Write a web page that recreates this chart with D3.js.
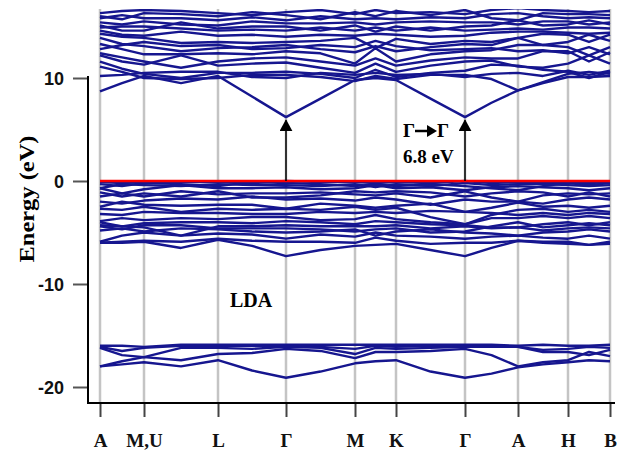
<!DOCTYPE html>
<html>
<head>
<meta charset="utf-8">
<script src="https://cdn.jsdelivr.net/npm/d3@7"></script>
<style>
  body { margin: 0; background: #fff; }
  .tickLabelY { font-family: "Liberation Sans", Arial, sans-serif; font-weight: bold; font-size: 18px; }
  .tickLabelX, .label, .note { font-family: "Liberation Serif", "Times New Roman", serif; font-weight: bold; }
</style>
</head>
<body>
<svg></svg>
<script>
// high symmetry points along the path
var kNames = ["A", "M,U", "L", "\u0393", "M", "K", "\u0393", "A", "H", "B"];
var kTicks = [0, 0.44, 1.18, 1.86, 2.55, 2.96, 3.65, 4.18, 4.68, 5.10];
// k grid: symmetry points plus one point in each segment
var kGrid = [0, 0.22, 0.44, 0.81, 1.18, 1.52, 1.86, 2.205, 2.55, 2.755, 2.96, 3.305, 3.65, 3.915, 4.18, 4.43, 4.68, 4.89, 5.10];
var yTicks = [10, 0, -10, -20];

// conduction bands (eV)
var conduction = [
  [8.7, 9.5, 10.2, 9.5, 10.2, 8.2, 6.2, 8.0, 9.8, 10.0, 9.8, 8.0, 6.2, 7.6, 8.8, 9.5, 10.1, 10.1, 10.2],
  [11.1, 10.6, 10.0, 9.9, 10.0, 10.3, 10.3, 10.1, 9.7, 10.2, 9.9, 10.3, 10.3, 9.9, 8.8, 9.6, 10.4, 10.6, 10.4],
  [10.2, 10.3, 10.5, 10.6, 10.6, 10.1, 10.0, 10.5, 10.3, 10.5, 10.3, 10.4, 10.1, 10.4, 10.5, 10.2, 10.7, 10.3, 10.7],
  [11.6, 10.9, 10.4, 10.0, 10.5, 10.5, 10.6, 10.4, 10.0, 10.8, 10.1, 10.5, 10.7, 11.3, 11.2, 10.8, 10.6, 10.0, 10.6],
  [12.2, 11.6, 11.3, 12.2, 11.2, 11.4, 11.5, 11.0, 10.5, 11.4, 10.6, 11.2, 11.6, 11.7, 11.1, 11.0, 11.4, 12.2, 11.4],
  [12.4, 12.0, 11.6, 11.0, 11.6, 11.9, 12.0, 11.6, 11.2, 11.9, 11.2, 11.7, 12.0, 11.9, 11.9, 12.6, 12.6, 11.6, 12.5],
  [13.3, 12.8, 12.3, 12.3, 12.4, 12.3, 12.6, 12.4, 11.4, 12.9, 11.6, 12.3, 12.6, 12.7, 13.2, 13.2, 13.0, 12.2, 13.0],
  [12.8, 13.2, 13.5, 13.1, 13.2, 12.8, 12.9, 13.2, 13.0, 13.6, 13.1, 12.7, 12.8, 12.9, 12.6, 12.7, 12.4, 13.0, 12.3],
  [13.9, 13.3, 13.1, 12.6, 12.9, 13.0, 13.2, 12.8, 12.5, 13.1, 12.6, 13.0, 13.3, 13.2, 13.9, 13.2, 13.5, 14.2, 13.6],
  [14.3, 14.0, 13.9, 13.4, 13.5, 13.4, 13.5, 13.6, 13.9, 12.9, 13.8, 13.3, 13.6, 13.5, 13.9, 14.3, 14.2, 13.5, 14.2],
  [14.6, 14.2, 14.1, 14.5, 14.1, 14.2, 14.0, 14.2, 14.1, 14.3, 14.2, 14.0, 14.1, 14.4, 14.5, 14.5, 14.4, 14.3, 14.4],
  [14.9, 15.0, 15.0, 14.8, 14.6, 14.7, 14.6, 14.9, 14.6, 14.9, 14.6, 14.9, 14.6, 14.7, 14.8, 14.7, 14.9, 14.9, 14.8],
  [15.1, 14.6, 14.6, 15.4, 14.8, 15.0, 15.0, 14.6, 15.1, 14.5, 15.0, 14.6, 15.0, 15.1, 15.6, 15.1, 15.2, 15.6, 15.2],
  [15.4, 15.2, 15.5, 15.2, 15.1, 15.5, 15.3, 15.3, 15.4, 15.2, 15.4, 15.5, 15.4, 15.4, 15.2, 15.5, 15.5, 15.2, 15.4],
  [15.8, 16.1, 15.8, 15.8, 15.6, 15.9, 15.6, 16.0, 15.7, 15.8, 15.7, 15.9, 15.8, 16.2, 16.3, 16.0, 15.8, 15.9, 15.8],
  [16.0, 15.7, 16.3, 16.2, 16.0, 16.4, 16.1, 15.7, 16.4, 16.0, 16.5, 16.1, 16.6, 15.8, 15.6, 16.3, 16.2, 16.2, 16.1],
  [16.3, 16.5, 16.6, 16.5, 16.3, 16.1, 16.4, 16.6, 16.2, 16.6, 16.3, 16.4, 16.2, 16.6, 16.8, 16.6, 16.5, 16.4, 16.5]
];

// valence bands (eV)
var valence = [
  [-0.1, -0.2, -0.1, -0.1, -0.1, -0.2, 0.0, -0.1, -0.1, -0.2, -0.1, -0.2, 0.0, -0.2, -0.1, -0.2, -0.2, -0.2, -0.1],
  [-0.3, -0.5, -0.2, -0.3, -0.5, -0.1, -0.2, -0.3, -0.5, -0.3, -0.5, -0.3, -0.5, -0.7, -0.9, -0.5, -0.2, -0.4, -0.2],
  [-0.7, -0.3, -0.4, -0.5, -0.3, -0.4, -0.4, -0.5, -0.3, -0.6, -0.3, -0.5, -0.2, -0.4, -0.3, -0.3, -0.4, -0.5, -0.4],
  [-0.7, -1.2, -0.8, -0.4, -0.7, -0.7, -0.6, -0.8, -0.7, -0.4, -0.7, -0.6, -0.9, -0.6, -0.5, -0.6, -0.7, -0.9, -0.7],
  [-1.1, -1.5, -1.2, -1.5, -1.0, -1.6, -1.6, -1.4, -1.0, -1.1, -1.0, -1.1, -1.5, -1.2, -1.0, -1.1, -1.5, -1.1, -1.5],
  [-1.5, -1.2, -1.5, -1.0, -1.3, -1.2, -1.2, -1.1, -1.3, -1.4, -1.2, -1.6, -1.0, -1.6, -2.0, -1.4, -1.2, -1.3, -1.2],
  [-2.0, -2.2, -1.9, -1.7, -1.8, -1.5, -1.8, -1.7, -1.9, -1.6, -1.8, -2.3, -1.8, -2.0, -2.0, -2.2, -1.8, -1.6, -1.8],
  [-2.5, -2.0, -2.3, -2.4, -2.3, -2.3, -2.7, -2.2, -2.4, -2.6, -2.4, -2.2, -3.0, -2.6, -2.1, -2.5, -2.4, -2.6, -2.4],
  [-2.7, -2.8, -2.5, -3.0, -2.7, -2.8, -2.7, -2.8, -2.5, -2.8, -2.6, -3.5, -4.2, -3.3, -2.8, -2.7, -3.0, -2.8, -3.0],
  [-3.2, -3.3, -3.0, -3.1, -3.1, -3.2, -3.2, -3.0, -3.1, -3.0, -3.1, -2.9, -3.0, -3.1, -3.3, -3.1, -3.3, -3.1, -3.2],
  [-3.9, -3.6, -3.8, -3.6, -3.7, -3.5, -3.5, -3.8, -3.7, -3.3, -3.7, -4.0, -4.2, -3.6, -3.6, -3.4, -3.6, -3.4, -3.6],
  [-4.0, -4.4, -4.1, -4.0, -4.0, -4.1, -3.9, -4.0, -4.2, -3.9, -4.0, -4.2, -4.3, -4.5, -4.5, -4.2, -4.0, -4.3, -4.0],
  [-4.3, -4.4, -4.5, -5.3, -4.4, -4.4, -4.3, -4.4, -4.4, -4.4, -4.3, -4.6, -4.4, -4.6, -4.5, -4.8, -4.6, -4.5, -4.6],
  [-4.4, -4.7, -4.3, -4.3, -4.6, -4.6, -4.6, -4.7, -4.9, -4.7, -4.6, -5.0, -4.9, -4.4, -4.0, -4.5, -4.3, -4.1, -4.3],
  [-4.8, -4.6, -4.9, -4.6, -4.7, -4.9, -5.0, -4.9, -4.7, -5.3, -4.9, -4.7, -5.0, -5.1, -5.3, -5.0, -4.9, -4.7, -4.9],
  [-5.9, -5.3, -5.0, -5.3, -5.1, -5.2, -5.6, -5.2, -5.4, -5.0, -5.3, -5.4, -5.6, -5.4, -5.3, -5.5, -5.6, -5.3, -5.6],
  [-6.0, -5.9, -5.8, -5.9, -5.6, -5.8, -5.9, -5.9, -6.0, -5.5, -5.8, -6.1, -6.0, -6.0, -5.8, -5.9, -5.9, -6.2, -5.9],
  [-6.0, -6.0, -5.9, -6.5, -5.7, -6.3, -7.3, -6.7, -6.3, -6.2, -6.1, -6.7, -7.3, -6.5, -5.8, -6.0, -6.1, -6.2, -6.1]
];

// semicore bands (eV)
var semicore = [
  [-16.0, -16.0, -16.1, -15.9, -15.9, -15.9, -15.9, -15.9, -15.9, -15.9, -15.9, -15.9, -15.9, -15.9, -16.0, -15.9, -16.0, -16.0, -15.9],
  [-16.1, -16.5, -16.2, -16.0, -16.0, -16.0, -16.0, -16.1, -16.3, -16.0, -16.1, -16.0, -16.0, -16.0, -16.1, -16.4, -16.3, -16.1, -16.2],
  [-16.2, -16.9, -17.1, -16.2, -16.2, -16.3, -16.1, -16.2, -16.8, -16.2, -16.3, -16.2, -16.1, -16.1, -16.1, -16.6, -16.6, -16.9, -16.4],
  [-18.0, -17.5, -17.1, -17.4, -16.8, -16.7, -16.3, -16.5, -17.2, -16.6, -16.6, -16.5, -16.3, -16.9, -18.0, -17.6, -17.4, -16.6, -17.0],
  [-18.0, -17.8, -17.6, -18.0, -17.4, -18.4, -19.1, -18.5, -17.7, -17.5, -17.4, -18.5, -19.1, -18.7, -18.1, -17.8, -17.6, -17.4, -17.5]
];

// band gap marked at the two Gamma points
var gapTicks = [1.86, 3.65];
var gapTop = 5.9;

var bandColor = "#16168f";

var svg = d3.select("svg")
    .attr("width", 628)
    .attr("height", 452);

var plot = {left: 100, right: 610, top: 9, bottom: 403};

var xScale = d3.scaleLinear()
    .domain([kTicks[0], kTicks[kTicks.length - 1]])
    .range([plot.left, plot.right]);

var yScale = d3.scaleLinear()
    .domain([-20, 10])
    .range([387, 78]);

var defs = svg.append("defs");

defs.append("clipPath")
    .attr("id", "clip")
    .append("rect")
    .attr("x", plot.left - 2)
    .attr("y", plot.top)
    .attr("width", plot.right - plot.left + 4)
    .attr("height", plot.bottom - plot.top);

// arrow head pointing along the line
defs.append("marker")
    .attr("id", "head")
    .attr("viewBox", "0 0 12 13")
    .attr("refX", 11)
    .attr("refY", 6.5)
    .attr("markerWidth", 12)
    .attr("markerHeight", 13)
    .attr("markerUnits", "userSpaceOnUse")
    .attr("orient", "auto")
    .append("path")
    .attr("d", "M0,0 L12,6.5 L0,13 Z")
    .attr("fill", "#000");

// gray lines at symmetry points
svg.append("g")
    .selectAll("line")
    .data(kTicks)
    .enter()
    .append("line")
    .attr("x1", function(k) { return xScale(k); })
    .attr("x2", function(k) { return xScale(k); })
    .attr("y1", plot.top)
    .attr("y2", plot.bottom)
    .attr("stroke", "#c4c4c4")
    .attr("stroke-width", 2.5);

var line = d3.line()
    .x(function(e, i) { return xScale(kGrid[i]); })
    .y(function(e) { return yScale(e); });

var bands = conduction.concat(valence, semicore);

svg.append("g")
    .attr("clip-path", "url(#clip)")
    .selectAll("path")
    .data(bands)
    .enter()
    .append("path")
    .attr("d", line)
    .attr("fill", "none")
    .attr("stroke", bandColor)
    .attr("stroke-width", 2.4)
    .attr("stroke-linejoin", "round");

// Fermi level
svg.append("line")
    .attr("x1", plot.left)
    .attr("x2", plot.right)
    .attr("y1", yScale(0))
    .attr("y2", yScale(0))
    .attr("stroke", "#ff0000")
    .attr("stroke-width", 2.5);

// gap arrows
svg.append("g")
    .selectAll("line")
    .data(gapTicks)
    .enter()
    .append("line")
    .attr("x1", function(k) { return xScale(k); })
    .attr("x2", function(k) { return xScale(k); })
    .attr("y1", yScale(0))
    .attr("y2", yScale(gapTop))
    .attr("stroke", "#000")
    .attr("stroke-width", 1.5)
    .attr("marker-end", "url(#head)");

// axes
var yAxis = d3.axisLeft(yScale)
    .tickValues(yTicks)
    .tickSize(15)
    .tickPadding(9)
    .tickFormat(function(e) { return String(e); });

var gy = svg.append("g")
    .attr("transform", "translate(88,0)")
    .call(yAxis);
gy.select(".domain").remove();
gy.selectAll(".tick line").attr("stroke", "#555").attr("stroke-width", 2);
gy.selectAll(".tick text").attr("class", "tickLabelY").attr("fill", "#111").attr("dy", "0.36em");

svg.append("line")
    .attr("x1", 88).attr("x2", 88)
    .attr("y1", yScale(10) - 2).attr("y2", plot.bottom + 1)
    .attr("stroke", "#000").attr("stroke-width", 2);

var xAxis = d3.axisBottom(xScale)
    .tickValues(kTicks)
    .tickSize(14)
    .tickPadding(17)
    .tickFormat(function(k, i) { return kNames[i]; });

var gx = svg.append("g")
    .attr("transform", "translate(0," + plot.bottom + ")")
    .call(xAxis);
gx.select(".domain").remove();
gx.selectAll(".tick line").attr("stroke", "#444").attr("stroke-width", 2);
gx.selectAll(".tick text").attr("class", "tickLabelX").attr("font-size", 19).attr("fill", "#111");

svg.append("line")
    .attr("x1", 88).attr("x2", 615)
    .attr("y1", plot.bottom).attr("y2", plot.bottom)
    .attr("stroke", "#000").attr("stroke-width", 2);

// labels
svg.append("g")
    .attr("transform", "translate(34,199)")
    .append("text")
    .attr("class", "label")
    .attr("font-size", 22)
    .attr("text-anchor", "middle")
    .attr("textLength", 127)
    .attr("lengthAdjust", "spacingAndGlyphs")
    .attr("transform", "rotate(270)")
    .text("Energy (eV)");

svg.append("text")
    .attr("class", "label")
    .attr("font-size", 20)
    .attr("x", 230)
    .attr("y", 307)
    .text("LDA");

// Gamma -> Gamma note with a drawn arrow between the letters
var note = svg.append("g");
note.append("text")
    .attr("class", "note")
    .attr("font-size", 19)
    .attr("x", 403)
    .attr("y", 137)
    .text("\u0393");
note.append("line")
    .attr("x1", 415).attr("x2", 428)
    .attr("y1", 131).attr("y2", 131)
    .attr("stroke", "#000").attr("stroke-width", 2.5);
note.append("path")
    .attr("d", "M427,125 L437,131 L427,137 Z")
    .attr("fill", "#000");
note.append("text")
    .attr("class", "note")
    .attr("font-size", 19)
    .attr("x", 437)
    .attr("y", 137)
    .text("\u0393");

svg.append("text")
    .attr("class", "note")
    .attr("font-size", 19)
    .attr("x", 403)
    .attr("y", 163)
    .text("6.8 eV");
</script>
</body>
</html>
